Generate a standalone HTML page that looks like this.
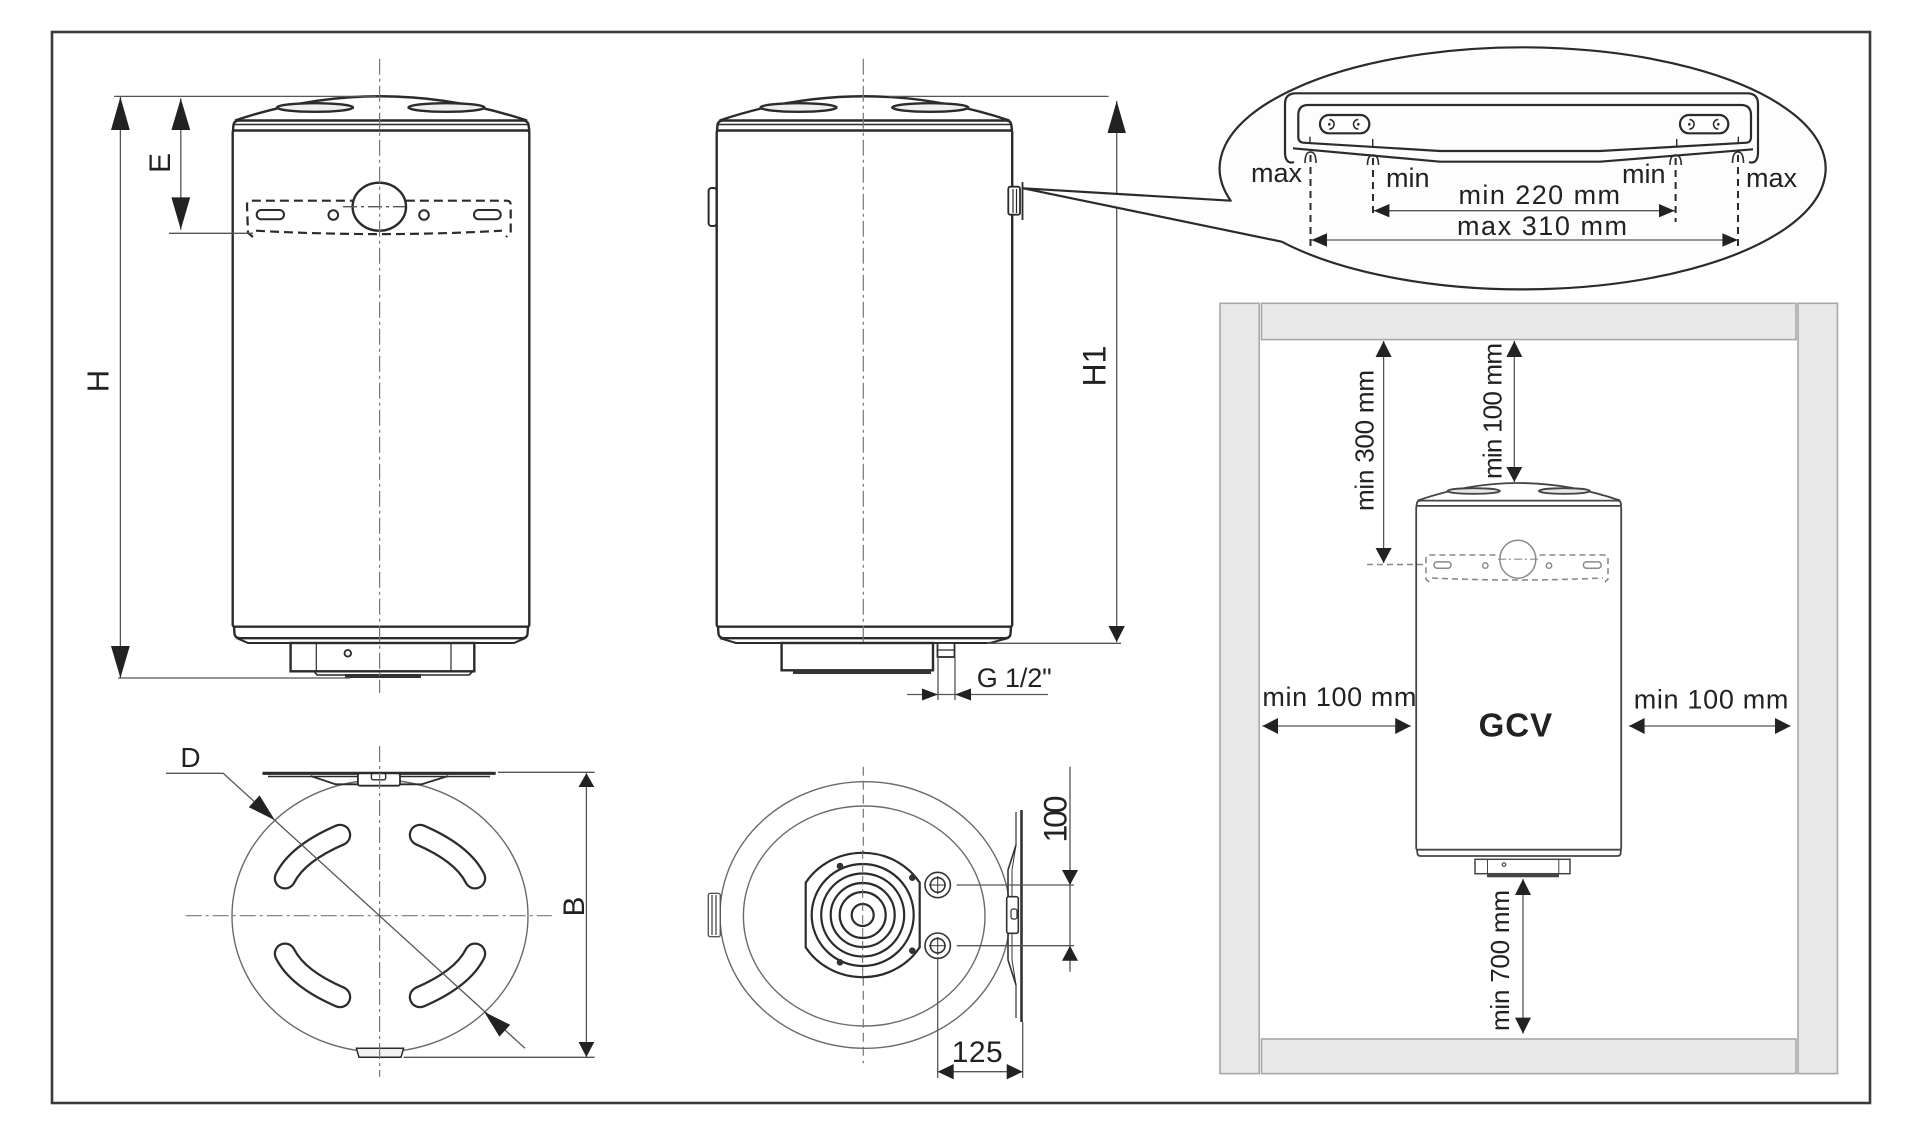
<!DOCTYPE html>
<html><head><meta charset="utf-8"><style>
html,body{margin:0;padding:0;background:#fff;}
svg{display:block;}
text{font-family:"Liberation Sans",Arial,sans-serif;fill:#222;}
</style></head><body>
<svg width="1919" height="1126" viewBox="0 0 1919 1126" xmlns="http://www.w3.org/2000/svg">
<rect x="0" y="0" width="1919" height="1126" fill="#fff"/>
<rect x="52" y="32" width="1818" height="1071" fill="none" stroke="#3a3a3a" stroke-width="2.6"/>

<!-- ============ FRONT VIEW ============ -->
<g fill="none" stroke="#2b2b2b" stroke-width="2.4">
 <path d="M235,120.5 Q379.5,72 527,120.5"/>
 <ellipse cx="315" cy="107.5" rx="38" ry="4.3" fill="#efefef"/>
 <ellipse cx="446.5" cy="107.5" rx="38" ry="4.3" fill="#efefef"/>
 <path d="M233,131 L233.5,124.5 Q234.5,120.5 239,120.5 L523,120.5 Q527.5,120.5 528.5,124.5 L529.3,131"/>
 <line x1="234" y1="124.5" x2="528" y2="124.5" stroke-width="1.4"/>
 <rect x="232.7" y="130.5" width="296.6" height="496.2" rx="2" fill="#fff"/>
 <path d="M234,626.7 L234.5,634 Q235.5,638.2 240,638.2 L522,638.2 Q527,638.2 527.5,634 L528,626.7"/>
 <path d="M237,638.2 L248,643 L514,643 L525,638.2" stroke-width="2"/>
 <rect x="290.6" y="643" width="183.7" height="28.3" fill="#fff"/>
 <line x1="316.3" y1="643" x2="316.3" y2="671.3" stroke-width="1.2"/>
 <line x1="451" y1="643" x2="451" y2="671.3" stroke-width="1.2"/>
 <circle cx="347.8" cy="653.3" r="3.3" stroke-width="1.8"/>
 <path d="M314,671.3 L317,675 L469,675 L473,671.3" stroke-width="1.6"/>
</g>
<rect x="345" y="674" width="76" height="4" fill="#333"/>
<!-- bracket dashed -->
<g fill="none" stroke="#2b2b2b" stroke-width="2.2" stroke-dasharray="9 5">
 <path d="M253,237 L248,233 L247,205 Q247,200.7 251,200.7 L506.5,200.7 Q510.7,200.7 510.7,205 L510.7,233 L506,237"/>
 <path d="M256,230.7 Q380,237.5 502,230.7"/>
</g>
<g fill="none" stroke="#2b2b2b" stroke-width="2">
 <rect x="256.7" y="210" width="27.3" height="9.3" rx="4.6"/>
 <rect x="474" y="210" width="26.7" height="9.3" rx="4.6"/>
 <circle cx="333.3" cy="215" r="4.8"/>
 <circle cx="424" cy="215" r="4.8"/>
 <ellipse cx="379.3" cy="206.7" rx="26.7" ry="24" stroke-width="2.4" fill="#fff"/>
</g>
<line x1="343" y1="206.7" x2="405" y2="206.7" stroke="#555" stroke-width="1.3" stroke-dasharray="14 4 3 4"/>
<line x1="379.6" y1="58.8" x2="379.6" y2="693" stroke="#777" stroke-width="1.2" stroke-dasharray="16 4 3 4"/>
<!-- dims front -->
<g stroke="#555" stroke-width="1.3" fill="none">
 <line x1="114" y1="96.4" x2="376" y2="96.4"/>
 <line x1="118" y1="678" x2="350" y2="678"/>
 <line x1="169" y1="233.3" x2="253" y2="233.3"/>
 <line x1="120.4" y1="97" x2="120.4" y2="678"/>
 <line x1="180.8" y1="98.5" x2="180.8" y2="229.6"/>
</g>
<g fill="#222">
 <polygon points="120.4,97 111,130 129.8,130"/>
 <polygon points="120.4,678 111,646 129.8,646"/>
 <polygon points="180.8,98.5 171.4,130 190.2,130"/>
 <polygon points="180.8,229.6 171.4,197.4 190.2,197.4"/>
</g>
<text transform="translate(159,163) rotate(-90)" text-anchor="middle" dy="0.36em" font-size="30">E</text>
<text transform="translate(97.5,381) rotate(-90)" text-anchor="middle" dy="0.36em" font-size="31">H</text>

<!-- ============ SIDE VIEW ============ -->
<g fill="none" stroke="#2b2b2b" stroke-width="2.4">
 <path d="M719.6,120.5 Q863.3,72 1009.4,120.5"/>
 <ellipse cx="798.5" cy="107.5" rx="38" ry="4.3" fill="#efefef"/>
 <ellipse cx="930.3" cy="107.5" rx="38" ry="4.3" fill="#efefef"/>
 <path d="M717,131 L717.5,124.5 Q718.5,120.5 723,120.5 L1006,120.5 Q1010.5,120.5 1011.3,124.5 L1012,131"/>
 <line x1="718" y1="124.5" x2="1011" y2="124.5" stroke-width="1.4"/>
 <rect x="716.7" y="130.5" width="295.5" height="496.2" rx="2" fill="#fff"/>
 <path d="M718,626.7 L718.5,634 Q719.5,638.2 724,638.2 L1005,638.2 Q1010,638.2 1010.5,634 L1011,626.7"/>
 <path d="M720,638.2 L736,643 L990,643 L1008,638.2" stroke-width="2"/>
 <rect x="781.6" y="643" width="151.4" height="27.3" fill="#fff"/>
 <rect x="937.5" y="643" width="17" height="14" stroke-width="1.8" fill="#fff"/>
 <line x1="937.5" y1="650" x2="954.5" y2="650" stroke-width="1.2"/>
 <rect x="708.6" y="188" width="8" height="38" rx="3" stroke-width="2"/>
 <rect x="1008.3" y="186.7" width="11.7" height="28" rx="2" stroke-width="1.8" fill="#fff"/>
 <line x1="1013" y1="189" x2="1013" y2="213" stroke-width="1.2"/>
 <line x1="1016.5" y1="189" x2="1016.5" y2="213" stroke-width="1.2"/>
 <line x1="1022.5" y1="182" x2="1022.5" y2="220" stroke-width="1.8"/>
</g>
<rect x="793" y="670" width="138" height="4" fill="#333"/>
<line x1="863.3" y1="58.8" x2="863.3" y2="643" stroke="#777" stroke-width="1.2" stroke-dasharray="16 4 3 4"/>
<g stroke="#555" stroke-width="1.3" fill="none">
 <line x1="889" y1="96.4" x2="1108.6" y2="96.4"/>
 <line x1="987" y1="643.3" x2="1121" y2="643.3"/>
 <line x1="1116.7" y1="101" x2="1116.7" y2="642"/>
 <line x1="938" y1="657" x2="938" y2="700"/>
 <line x1="955" y1="657" x2="955" y2="700"/>
 <line x1="907" y1="694.5" x2="1048" y2="694.5"/>
</g>
<g fill="#222">
 <polygon points="1116.7,101 1107.5,133 1125.9,133"/>
 <polygon points="1116.7,642 1108.5,626 1124.9,626"/>
 <polygon points="938,694.5 922,688.5 922,700.5"/>
 <polygon points="955,694.5 971,688.5 971,700.5"/>
</g>
<text transform="translate(1094,366) rotate(-90)" text-anchor="middle" dy="0.36em" font-size="32">H1</text>
<text x="976.7" y="687" font-size="27" textLength="75">G 1/2"</text>

<!-- callout bubble -->
<path d="M1230.7,200.7 L1023.3,188.3 L1281.7,241.7 A303 121 0 1 0 1230.7,200.7 Z" fill="#fdfdfd" stroke="#2b2b2b" stroke-width="2.2" stroke-linejoin="round"/>
<g fill="none" stroke="#2b2b2b" stroke-width="2.2">
 <path d="M1294,162 Q1290,163.5 1287.5,161 Q1285,158 1285,153 L1285,104 Q1285,93.3 1296,93.3 L1747,93.3 Q1758,93.3 1758,104 L1758,153 Q1758,158 1755.5,161 Q1753,163.5 1749,162"/>
 <path d="M1303,142.7 Q1298.3,142 1298.3,137 L1298.3,115 Q1298.3,105 1308.3,105 L1741,105 Q1751,105 1751,115 L1751,137 Q1751,142 1747,142.7"/>
 <path d="M1303,142.7 L1440,151 L1600,151 L1747,142.7"/>
 <path d="M1293,148.3 L1440,161.7 L1600,161.7 L1753,149.3"/>
 <rect x="1320" y="115" width="49.3" height="18.3" rx="9"/>
 <rect x="1680" y="115" width="48.3" height="18.3" rx="9"/>
 <path d="M1329.3,119.5 A4.8 4.8 0 1 1 1329.3,129.1" stroke-width="1.6"/>
 <path d="M1358.3,119.5 A4.8 4.8 0 1 0 1358.3,129.1" stroke-width="1.6"/>
 <path d="M1689.3,119.5 A4.8 4.8 0 1 1 1689.3,129.1" stroke-width="1.6"/>
 <path d="M1718.3,119.5 A4.8 4.8 0 1 0 1718.3,129.1" stroke-width="1.6"/>
 <line x1="1310" y1="136.7" x2="1310" y2="143.3" stroke-width="1.4"/>
 <line x1="1372.7" y1="139" x2="1372.7" y2="147" stroke-width="1.4"/>
 <line x1="1676.7" y1="139" x2="1676.7" y2="147" stroke-width="1.4"/>
 <line x1="1738.3" y1="136.7" x2="1738.3" y2="143.3" stroke-width="1.4"/>
 <path d="M1305,163 Q1305,152 1310.5,152 Q1316,152 1316,163" stroke-width="1.6"/>
 <path d="M1367.5,165 Q1367.5,155 1373,155 Q1378.5,155 1378.5,165" stroke-width="1.6"/>
 <path d="M1670,165 Q1670,155 1675.6,155 Q1681.2,155 1681.2,165" stroke-width="1.6"/>
 <path d="M1732.5,163 Q1732.5,152 1738,152 Q1743.5,152 1743.5,163" stroke-width="1.6"/>
</g>
<g fill="#222">
 <circle cx="1329.3" cy="124.3" r="1.3"/><circle cx="1358.3" cy="124.3" r="1.3"/>
 <circle cx="1689.3" cy="124.3" r="1.3"/><circle cx="1718.3" cy="124.3" r="1.3"/>
</g>
<g stroke="#2b2b2b" stroke-width="2" stroke-dasharray="7 5">
 <line x1="1310.5" y1="155" x2="1310.5" y2="248"/>
 <line x1="1373" y1="158" x2="1373" y2="218"/>
 <line x1="1675.6" y1="158" x2="1675.6" y2="222"/>
 <line x1="1738" y1="155" x2="1738" y2="248"/>
</g>
<g stroke="#555" stroke-width="1.3">
 <line x1="1373.8" y1="210.7" x2="1674.7" y2="210.7"/>
 <line x1="1311.4" y1="240" x2="1738" y2="240"/>
</g>
<g fill="#222">
 <polygon points="1373.8,210.7 1389.4,204 1389.4,217.4"/>
 <polygon points="1674.7,210.7 1659,204 1659,217.4"/>
 <polygon points="1311.4,240 1327,233.3 1327,246.7"/>
 <polygon points="1738,240 1722.4,233.3 1722.4,246.7"/>
</g>
<g font-size="27">
 <text x="1251" y="182">max</text>
 <text x="1386" y="187">min</text>
 <text x="1622" y="183">min</text>
 <text x="1746" y="187">max</text>
 <text x="1458.5" y="204" textLength="161.5">min 220 mm</text>
 <text x="1457" y="235" textLength="170">max 310 mm</text>
</g>

<!-- ============ RIGHT PANEL ============ -->
<g fill="#e8e8e8" stroke="#a8a8a8" stroke-width="1.6">
 <rect x="1220" y="303.3" width="39.2" height="770.3"/>
 <rect x="1261.5" y="303.3" width="534.5" height="36.3"/>
 <rect x="1798" y="303.3" width="39.5" height="770.3"/>
 <rect x="1261.5" y="1039" width="534.5" height="34.6"/>
</g>
<g fill="none" stroke="#444" stroke-width="1.8">
 <path d="M1417.5,500.6 Q1517.8,465.4 1620.4,500.6"/>
 <ellipse cx="1473.7" cy="491" rx="26.3" ry="2.8" fill="#e6e6e6"/>
 <ellipse cx="1564.4" cy="491" rx="25.6" ry="2.8" fill="#e6e6e6"/>
 <path d="M1416.5,506 L1417,502.5 Q1418,500.6 1421,500.6 L1617,500.6 Q1620,500.6 1620.7,502.5 L1621.2,506"/>
 <rect x="1416.2" y="505.9" width="205" height="343.8" rx="1.5" fill="#fff"/>
 <path d="M1417,849.7 L1417.5,854 Q1418,856 1421,856 L1617,856 Q1620,856 1620.5,854 L1621,849.7"/>
 <rect x="1475" y="859.3" width="95" height="14.4" fill="#fff" stroke-width="1.5"/>
 <line x1="1487.5" y1="859.3" x2="1487.5" y2="873.7" stroke-width="1"/>
 <line x1="1558.8" y1="859.3" x2="1558.8" y2="873.7" stroke-width="1"/>
 <circle cx="1504" cy="864.6" r="1.8" stroke-width="1.2"/>
</g>
<rect x="1487" y="873.7" width="72" height="3.6" fill="#444"/>
<g fill="none" stroke="#8a8a8a" stroke-width="1.6" stroke-dasharray="6 4">
 <path d="M1429,582 L1426,579 L1426,559 Q1426,555 1430,555 L1604,555 Q1608,555 1608,559 L1608,579 L1605,582"/>
 <path d="M1432,578 Q1517,582 1603,578"/>
 <line x1="1367" y1="564.5" x2="1426" y2="564.5"/>
</g>
<g fill="none" stroke="#8a8a8a" stroke-width="1.5">
 <ellipse cx="1517.8" cy="559.2" rx="18" ry="19" fill="#fff"/>
 <rect x="1434" y="561.9" width="17" height="6.3" rx="3"/>
 <rect x="1583.4" y="561.9" width="17.8" height="6.3" rx="3"/>
 <circle cx="1485.3" cy="565.6" r="2.7"/>
 <circle cx="1549" cy="565.6" r="2.7"/>
</g>
<line x1="1498" y1="559.2" x2="1538" y2="559.2" stroke="#8a8a8a" stroke-width="1.2" stroke-dasharray="8 3 2 3"/>
<g stroke="#555" stroke-width="1.3">
 <line x1="1383.6" y1="341" x2="1383.6" y2="563"/>
 <line x1="1514.3" y1="341" x2="1514.3" y2="482"/>
 <line x1="1262.4" y1="726" x2="1410.8" y2="726"/>
 <line x1="1629" y1="726" x2="1790.7" y2="726"/>
 <line x1="1523" y1="879" x2="1523" y2="1033.6"/>
</g>
<g fill="#222">
 <polygon points="1383.6,341 1375.6,357 1391.6,357"/>
 <polygon points="1383.6,563 1375.6,548 1391.6,548"/>
 <polygon points="1514.3,341 1506.3,357 1522.3,357"/>
 <polygon points="1514.3,482 1506.3,467 1522.3,467"/>
 <polygon points="1262.4,726 1278,718 1278,734"/>
 <polygon points="1410.8,726 1395.2,718 1395.2,734"/>
 <polygon points="1629,726 1644.6,718 1644.6,734"/>
 <polygon points="1790.7,726 1775,718 1775,734"/>
 <polygon points="1523,879 1515,895 1531,895"/>
 <polygon points="1523,1033.6 1515,1017.6 1531,1017.6"/>
</g>
<text transform="translate(1364,440.5) rotate(-90)" text-anchor="middle" dy="0.36em" font-size="26" textLength="141">min 300 mm</text>
<text transform="translate(1492,411) rotate(-90)" text-anchor="middle" dy="0.36em" font-size="26" textLength="136">min 100 mm</text>
<text transform="translate(1499.4,960.5) rotate(-90)" text-anchor="middle" dy="0.36em" font-size="26" textLength="141">min 700 mm</text>
<text x="1262.4" y="706" font-size="27" textLength="154">min 100 mm</text>
<text x="1633.7" y="708.5" font-size="27" textLength="154.7">min 100 mm</text>
<text x="1478.6" y="736.7" font-size="33" font-weight="bold" textLength="73.6">GCV</text>

<!-- ============ TOP VIEW (front) ============ -->
<ellipse cx="380" cy="916" rx="148" ry="136" fill="none" stroke="#6a6a6a" stroke-width="1.4"/>
<g fill="none" stroke="#2b2b2b" stroke-width="2.2">
 <line x1="262.5" y1="773.3" x2="495.7" y2="773.3" stroke-width="3.2"/>
 <line x1="268" y1="776.5" x2="490" y2="776.5" stroke-width="1.4"/>
 <path d="M310.7,776 L335.7,784.3 L357.9,784.3" stroke-width="1.8"/>
 <path d="M400,784.3 L421.4,784.3 L448.2,776" stroke-width="1.8"/>
 <rect x="357.9" y="773.3" width="42.1" height="12.4" rx="2" fill="#fff" stroke-width="1.8"/>
 <rect x="371.4" y="773.3" width="14.3" height="6.5" rx="2" stroke-width="1.4"/>
 <path d="M356.4,1048.3 L403.6,1048.3 L401,1057.3 L359,1057.3 Z" fill="#f2f2f2" stroke-width="1.5"/>
</g>
<g fill="none" stroke-linecap="round">
 <g stroke="#2b2b2b" stroke-width="22.5">
  <path d="M340,835 Q297.5,853.35 285,878.3"/>
  <path d="M420,835 Q462.5,853.35 475,878.3"/>
  <path d="M340,997 Q297.5,978.65 285,953.7"/>
  <path d="M420,997 Q462.5,978.65 475,953.7"/>
 </g>
 <g stroke="#fff" stroke-width="18">
  <path d="M340,835 Q297.5,853.35 285,878.3"/>
  <path d="M420,835 Q462.5,853.35 475,878.3"/>
  <path d="M340,997 Q297.5,978.65 285,953.7"/>
  <path d="M420,997 Q462.5,978.65 475,953.7"/>
 </g>
</g>
<g stroke="#777" stroke-width="1.2" stroke-dasharray="16 4 3 4">
 <line x1="379.6" y1="746" x2="379.6" y2="1076.7"/>
 <line x1="185.7" y1="915.7" x2="551.8" y2="915.7"/>
</g>
<g stroke="#555" stroke-width="1.3" fill="none">
 <polyline points="166,773.3 223.2,773.3 525,1048.3"/>
 <line x1="498" y1="772.3" x2="594.6" y2="772.3"/>
 <line x1="403.6" y1="1057.3" x2="594.6" y2="1057.3"/>
 <line x1="586.4" y1="773.3" x2="586.4" y2="1057"/>
</g>
<g fill="#222">
 <polygon points="274.9,820.2 248.8,807.2 259.6,795.4"/>
 <polygon points="484.1,1011.8 499.4,1036.6 510.2,1024.8"/>
 <polygon points="586.4,773.3 578.5,787 594.3,787"/>
 <polygon points="586.4,1057 578.5,1042 594.3,1042"/>
</g>
<text x="180.4" y="767" font-size="28">D</text>
<text transform="translate(573,906.5) rotate(-90)" text-anchor="middle" dy="0.36em" font-size="30">B</text>

<!-- ============ TOP VIEW (side) ============ -->
<ellipse cx="865" cy="915" rx="145" ry="133.3" fill="none" stroke="#6a6a6a" stroke-width="1.4"/>
<ellipse cx="864.2" cy="916" rx="120.8" ry="110" fill="none" stroke="#6a6a6a" stroke-width="1.4"/>
<g fill="#fff" stroke="#555" stroke-width="1.4">
 <rect x="708.3" y="893.3" width="12" height="43.4" rx="2"/>
 <line x1="712" y1="895" x2="712" y2="935"/>
 <line x1="716" y1="895" x2="716" y2="935"/>
</g>
<line x1="863.3" y1="766.7" x2="863.3" y2="1063.3" stroke="#777" stroke-width="1.2" stroke-dasharray="9 5"/>
<g fill="none" stroke="#2b2b2b" stroke-width="2.2">
 <path d="M805.7,882.7 A67 63 0 0 1 919.7,882.7 L919.7,947.3 A67 63 0 0 1 805.7,947.3 Z" fill="#fff"/>
 <circle cx="862.7" cy="915" r="51"/>
 <circle cx="862.7" cy="915" r="41.5"/>
 <circle cx="862.7" cy="915" r="32"/>
 <circle cx="862.7" cy="915" r="23"/>
 <circle cx="862.7" cy="915" r="11"/>
</g>
<line x1="862.7" y1="850" x2="862.7" y2="980" stroke="#666" stroke-width="1" stroke-dasharray="9 4"/>
<g fill="#333">
 <circle cx="840" cy="866" r="3.3"/><circle cx="912.3" cy="877.7" r="3.3"/>
 <circle cx="912.3" cy="950.7" r="3.3"/><circle cx="840" cy="962.3" r="3.3"/>
</g>
<g fill="none" stroke="#333" stroke-width="1.6">
 <circle cx="937.7" cy="885" r="12.7"/><circle cx="937.7" cy="885" r="7.3"/>
 <circle cx="937.7" cy="945.7" r="12.7"/><circle cx="937.7" cy="945.7" r="7.3"/>
 <line x1="929" y1="885" x2="946" y2="885" stroke-width="1"/>
 <line x1="937.7" y1="876" x2="937.7" y2="894" stroke-width="1"/>
 <line x1="929" y1="945.7" x2="946" y2="945.7" stroke-width="1"/>
 <line x1="937.7" y1="937" x2="937.7" y2="955" stroke-width="1"/>
</g>
<g fill="none" stroke="#333" stroke-width="1.6">
 <line x1="1021.5" y1="810" x2="1021.5" y2="1022" stroke-width="2.6"/>
 <line x1="1016" y1="812" x2="1016" y2="845" stroke-width="1.2"/>
 <line x1="1016" y1="985" x2="1016" y2="1018" stroke-width="1.2"/>
 <path d="M1016,845 L1008,870 L1008,896.7"/>
 <path d="M1016,845 L1012,870 L1012,896.7" stroke-width="1"/>
 <path d="M1008,933.3 L1008,960 L1016,985"/>
 <path d="M1012,933.3 L1012,960 L1016,985" stroke-width="1"/>
 <rect x="1006.7" y="896.7" width="11.6" height="36.6" rx="2" fill="#fff"/>
 <rect x="1011" y="909" width="6" height="10" rx="2" stroke-width="1.2"/>
</g>
<g stroke="#555" stroke-width="1.3">
 <line x1="956.7" y1="885" x2="1074" y2="885"/>
 <line x1="956.7" y1="945.7" x2="1074" y2="945.7"/>
 <line x1="1070" y1="766.7" x2="1070" y2="971.7"/>
 <line x1="937.7" y1="957" x2="937.7" y2="1078"/>
 <line x1="1022.7" y1="1022" x2="1022.7" y2="1078"/>
 <line x1="937.7" y1="1071.7" x2="1022.7" y2="1071.7"/>
</g>
<g fill="#222">
 <polygon points="1070,885 1062,870 1078,870"/>
 <polygon points="1070,945.7 1062,960.7 1078,960.7"/>
 <polygon points="937.7,1071.7 953.7,1064 953.7,1079.4"/>
 <polygon points="1022.7,1071.7 1006.7,1064 1006.7,1079.4"/>
</g>
<text transform="translate(1055,819) rotate(-90)" text-anchor="middle" dy="0.36em" font-size="32" textLength="47">100</text>
<text x="951.7" y="1062" font-size="30" textLength="51">125</text>
</svg>
</body></html>
